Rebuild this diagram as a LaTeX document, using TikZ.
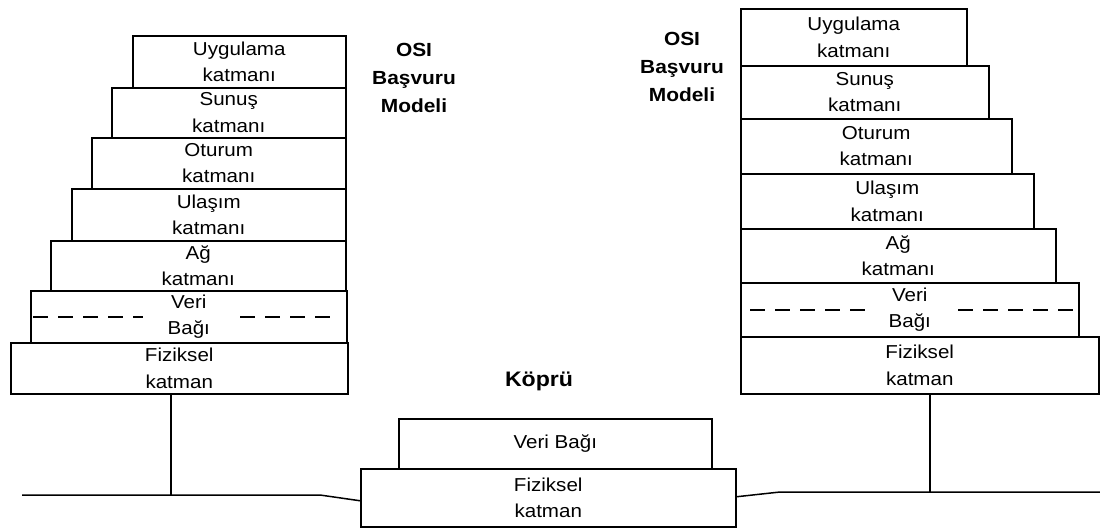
\documentclass[tikz,border=0pt]{standalone}
\usepackage{fontspec}
\setmainfont{Liberation Sans}[FakeStretch=1.1]
\begin{document}
\begin{tikzpicture}[x=1pt,y=-1pt,
  layer/.style={draw, line width=1.5pt, inner sep=0pt, align=center, anchor=north west,
    font=\fontsize{18.7}{26.5}\selectfont},
  title/.style={inner sep=0pt, align=center, font=\bfseries\fontsize{19}{28}\selectfont},
  wire/.style={line width=1.5pt},
  splitline/.style={line width=1.6pt, dash pattern=on 15pt off 10pt}]
\useasboundingbox (0,0) rectangle (1100,528);
% left stack
\node[layer, minimum width=213pt, minimum height=52pt] (uL) at (132,35) {Uygulama\\katmanı};
\node[layer, minimum width=234pt, minimum height=50pt] (sL) at (111,87) {Sunuş\\katmanı};
\node[layer, minimum width=254pt, minimum height=51pt] (oL) at (91,137) {Oturum\\katmanı};
\node[layer, minimum width=274pt, minimum height=52pt] (ulL) at (71,188) {Ulaşım\\katmanı};
\node[layer, minimum width=295pt, minimum height=50pt] (aL) at (50,240) {Ağ\\katmanı};
\node[layer, minimum width=316pt, minimum height=52pt] (vL) at (30,290) {Veri\\Bağı};
\node[layer, minimum width=337pt, minimum height=51pt] (fL) at (10,342) {Fiziksel\\katman};
\draw[splitline] (33,317) -- (143,317);
\draw[splitline] (240,317) -- (335,317);
% right stack
\node[layer, minimum width=226pt, minimum height=57pt] (uR) at (740,8) {Uygulama\\katmanı};
\node[layer, minimum width=248pt, minimum height=53pt] (sR) at (740,65) {Sunuş\\katmanı};
\node[layer, minimum width=271pt, minimum height=55pt] (oR) at (740,118) {Oturum\\katmanı};
\node[layer, minimum width=293pt, minimum height=55pt] (ulR) at (740,173) {Ulaşım\\katmanı};
\node[layer, minimum width=315pt, minimum height=54pt] (aR) at (740,228) {Ağ\\katmanı};
\node[layer, minimum width=338pt, minimum height=54pt] (vR) at (740,282) {Veri\\Bağı};
\node[layer, minimum width=358pt, minimum height=57pt] (fR) at (740,336) {Fiziksel\\katman};
\draw[splitline] (750,310) -- (866,310);
\draw[splitline] (958,310) -- (1074,310);
% bridge
\node[layer, minimum width=313pt, minimum height=50pt] (vB) at (398,418) {Veri Bağı};
\node[layer, minimum width=375pt, minimum height=58pt] (fB) at (360,468) {Fiziksel\\katman};
% titles
\node[title] (osiL) at (414,78) {OSI\\Başvuru\\Modeli};
\node[title] (osiR) at (682,67) {OSI\\Başvuru\\Modeli};
\node[title, font=\bfseries\fontsize{21}{26}\selectfont, anchor=base] (kopru) at (539,386) {Köprü};
% wires
\coordinate (gL) at (22,495);
\coordinate (kL) at (320,495);
\coordinate (tL) at (171,495);
\coordinate (kR) at (780,492);
\coordinate (gR) at (1100,492);
\coordinate (tR) at (930,492);
\draw[wire] (gL) -- (kL) -- ([yshift=-3pt]fB.west);
\draw[wire] ([yshift=1pt]fB.east) -- (kR) -- (gR);
\draw[wire] (tL |- fL.south) -- (tL);
\draw[wire] (tR |- fR.south) -- (tR);
\end{tikzpicture}
\end{document}
